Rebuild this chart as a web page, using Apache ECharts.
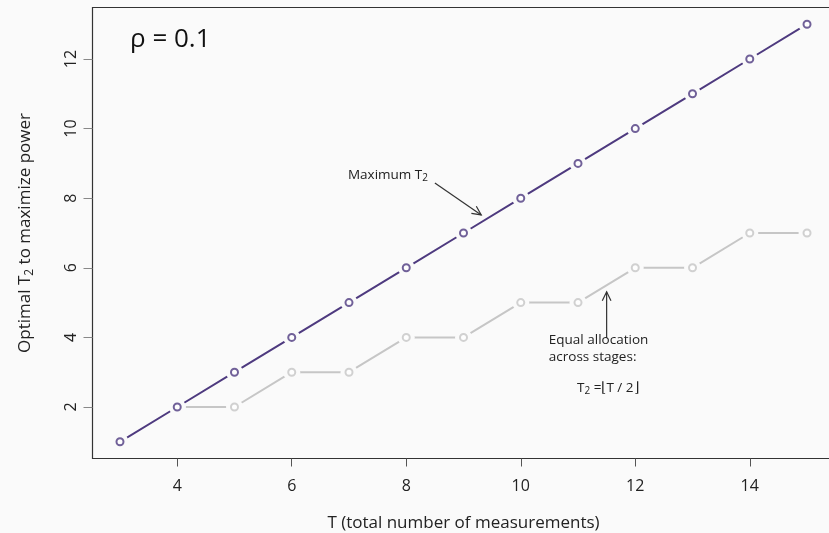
<!DOCTYPE html>
<html><head><meta charset="utf-8">
<script src="https://cdn.jsdelivr.net/npm/echarts@6/dist/echarts.min.js"></script>
<style>html,body{margin:0;padding:0;background:#fafafa;}#c{width:829px;height:533px;}</style>
</head><body><div id="c"></div>
<script>
const T_max = [3,4,5,6,7,8,9,10,11,12,13,14,15];
const T2_max = [1,2,3,4,5,6,7,8,9,10,11,12,13];
const T_eq = [4,5,6,7,8,9,10,11,12,13,14,15];
const T2_eq = [2,2,3,3,4,4,5,5,6,6,7,7];
const xTicks = [4,6,8,10,12,14];
const yTicks = [2,4,6,8,10,12];

const purple = '#4e3a7f', gray = '#c6c6c6', bg = '#fafafa';
const pair = (xs, ys) => xs.map((x,i)=>[x, ys[i]]);

const chart = echarts.init(document.getElementById('c'), null, {renderer:'canvas'});
const font = 'Open Sans';
chart.setOption({
  backgroundColor: bg,
  animation: false,
  grid: {left: 92.5, top: 7.5, width: 742, height: 451, show: true, borderColor: '#333', borderWidth: 1.2,
         backgroundColor: bg, outerBoundsMode: 'none', containLabel: false},
  xAxis: {
    type: 'value', min: 2.52, max: 15.48,
    axisLine: {show: false}, splitLine: {show: false},
    axisTick: {show: true, customValues: xTicks, length: 8, lineStyle: {color: '#555'}},
    axisLabel: {customValues: xTicks, margin: 20, color: '#222', fontSize: 16, fontFamily: font},
    name: 'T (total number of measurements)', nameLocation: 'middle', nameGap: 56,
    nameTextStyle: {fontSize: 17, color: '#222', fontFamily: font}
  },
  yAxis: {
    type: 'value', min: 0.52, max: 13.48,
    axisLine: {show: false}, splitLine: {show: false},
    axisTick: {show: true, customValues: yTicks, length: 9, lineStyle: {color: '#888'}},
    axisLabel: {customValues: yTicks, rotate: 90, margin: 13, color: '#222', fontSize: 16, fontFamily: font},
    name: '{a|Optimal T}{s|2}{a| to maximize power}', nameLocation: 'middle', nameGap: 57,
    nameTextStyle: {rich: {
      a: {fontSize: 17, color: '#222', fontFamily: font},
      s: {fontSize: 12, color: '#222', fontFamily: font, padding: [8,0,0,0]}
    }}
  },
  series: [
    {type: 'line', data: pair(T_eq, T2_eq), symbol: 'circle', symbolSize: 17, showSymbol: true,
     itemStyle: {color: bg}, lineStyle: {color: gray, width: 2}, z: 2},
    {type: 'scatter', data: pair(T_eq, T2_eq), symbol: 'emptyCircle', symbolSize: 7,
     itemStyle: {color: gray, borderColor: gray, borderWidth: 2}, z: 3},
    {type: 'line', data: pair(T_max, T2_max), symbol: 'circle', symbolSize: 17, showSymbol: true,
     itemStyle: {color: bg}, lineStyle: {color: purple, width: 2}, z: 4},
    {type: 'scatter', data: pair(T_max, T2_max), symbol: 'emptyCircle', symbolSize: 7,
     itemStyle: {color: purple, borderColor: purple, borderWidth: 2}, z: 5}
  ]
});

function px(x, y){ return chart.convertToPixel({gridIndex: 0}, [x, y]); }
function arrow(p0, p1){
  const ang = Math.atan2(p1[1]-p0[1], p1[0]-p0[0]);
  const L = 10, a = 0.45;
  const h1 = [p1[0]-L*Math.cos(ang-a), p1[1]-L*Math.sin(ang-a)];
  const h2 = [p1[0]-L*Math.cos(ang+a), p1[1]-L*Math.sin(ang+a)];
  const st = {stroke: '#333', lineWidth: 1.2, fill: null};
  return [
    {type:'polyline', shape:{points:[p0,p1]}, style: st, z: 10},
    {type:'polyline', shape:{points:[h1,p1,h2]}, style: st, z: 10}
  ];
}
const a1 = arrow(px(8.50, 8.44), px(9.31, 7.52));
const a2 = arrow(px(11.50, 3.98), px(11.50, 5.31));
const lbl1 = px(8.38, 8.67);
const lbl2 = px(10.49, 4.17);
const lbl3 = px(11.52, 2.55);
const rho = px(3.175, 12.55);
chart.setOption({graphic: [
  ...a1, ...a2,
  {type:'text', x: lbl1[0], y: lbl1[1], z: 10, style: {text: '{a|Maximum T}{s|2}', align: 'right', verticalAlign: 'middle',
    rich: {a:{fontSize: 13.5, fill:'#222', fontFamily: font}, s:{fontSize: 10, fill:'#222', fontFamily: font, padding:[6,0,0,0]}}}},
  {type:'text', x: lbl2[0], y: lbl2[1], z: 10, style: {text: 'Equal allocation\nacross stages:', align: 'left', verticalAlign: 'top',
    fontSize: 13.5, lineHeight: 17, fill: '#222', fontFamily: font}},
  {type:'text', x: lbl3[0], y: lbl3[1], z: 10, style: {text: '{a|T}{s|2}{a| =⌊T / 2⌋}', align: 'center', verticalAlign: 'middle',
    rich: {a:{fontSize: 13.5, fill:'#222', fontFamily: font}, s:{fontSize: 10, fill:'#222', fontFamily: font, padding:[6,0,0,0]}}}},
  {type:'text', x: rho[0], y: rho[1], z: 10, style: {text: 'ρ = 0.1', align: 'left', verticalAlign: 'middle',
    fontSize: 26, fill: '#111', fontFamily: font}}
]});
</script></body></html>
